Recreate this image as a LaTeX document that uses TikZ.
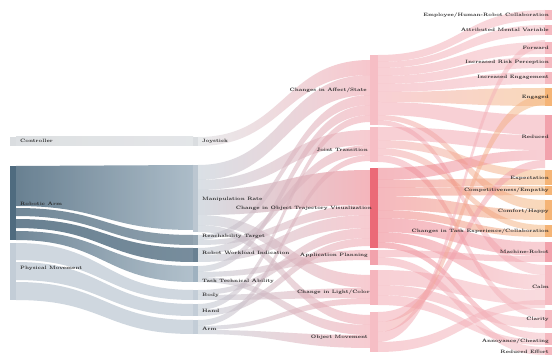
\documentclass[tikz,border=0pt]{standalone}
\usepackage{tikz}
\definecolor{robot}{HTML}{4F6B7F}
\definecolor{robotL}{HTML}{9FB2C0}
\definecolor{phys}{HTML}{C3CDD7}
\definecolor{ctrl}{HTML}{DADDE0}
\definecolor{gblue}{HTML}{BCC7D1}
\definecolor{pinkA}{HTML}{F2A2AC}
\definecolor{pinkB}{HTML}{F5B9C0}
\definecolor{redA}{HTML}{E8505F}
\definecolor{orangeA}{HTML}{F5B476}
\definecolor{txt}{HTML}{2A2A2A}
\newcommand\flowband[7]{%
  \pgfmathsetmacro\fbm{(#1+#4)/2}%
  \path[#7] (#1,#2) .. controls (\fbm,#2) and (\fbm,#5) .. (#4,#5) -- (#4,#6)
     .. controls (\fbm,#6) and (\fbm,#3) .. (#1,#3) -- cycle;}
\tikzset{
  lbl/.style={font=\fontsize{4.8}{5}\selectfont\bfseries, text=txt, inner sep=0pt},
  lblL/.style={lbl, anchor=west},
  lblR/.style={lbl, anchor=east},
  bandA/.style={left color=#1, right color=robotL, fill opacity=0.85},
  bandB/.style={left color=gblue, right color=pinkA, fill opacity=0.55},
  bandC/.style={left color=pinkA, right color=#1, fill opacity=0.5},
}
\begin{document}
\begin{tikzpicture}[x=1pt,y=-1pt]
\useasboundingbox (0,0) rectangle (554,355);
\fill[white] (0,0) rectangle (554,355);
% ---------- column 1 -> column 2 ----------
\flowband{16}{137}{146}{193}{137}{146}{left color=ctrl,right color=ctrl!80,fill opacity=0.9}
\flowband{16}{166}{206}{193}{165}{230}{bandA=robot}
\flowband{16}{208}{216}{193}{235}{245}{left color=robot,right color=robot!80,fill opacity=0.8}
\flowband{16}{219}{228}{193}{248}{262}{left color=robot,right color=robot!90,fill opacity=0.85}
\flowband{16}{231}{240}{193}{266}{282}{left color=robot,right color=robotL,fill opacity=0.8}
\flowband{16}{243}{260}{193}{290}{300}{left color=phys,right color=phys,fill opacity=0.8}
\flowband{16}{262}{280}{193}{304}{316}{left color=phys,right color=phys,fill opacity=0.8}
\flowband{16}{282}{300}{193}{320}{334}{left color=phys,right color=phys,fill opacity=0.8}
% ---------- column 2 -> column 3 ----------
\flowband{198}{137}{146}{370}{60}{75}{left color=ctrl,right color=pinkA,fill opacity=0.6}
\flowband{198}{165}{180}{370}{75}{95}{bandB}
\flowband{198}{180}{190}{370}{130}{145}{bandB}
\flowband{198}{190}{215}{370}{170}{205}{left color=gblue,right color=redA!70,fill opacity=0.6}
\flowband{198}{215}{225}{370}{275}{288}{bandB}
\flowband{198}{225}{232}{370}{315}{325}{bandB}
\flowband{198}{235}{240}{370}{95}{105}{bandB}
\flowband{198}{240}{245}{370}{205}{215}{bandB}
\flowband{198}{248}{255}{370}{145}{155}{bandB}
\flowband{198}{255}{262}{370}{215}{228}{bandB}
\flowband{198}{266}{272}{370}{105}{115}{bandB}
\flowband{198}{272}{277}{370}{250}{260}{bandB}
\flowband{198}{277}{282}{370}{325}{335}{bandB}
\flowband{198}{290}{295}{370}{228}{238}{bandB}
\flowband{198}{295}{300}{370}{288}{298}{bandB}
\flowband{198}{304}{310}{370}{115}{122}{bandB}
\flowband{198}{310}{316}{370}{238}{246}{bandB}
\flowband{198}{320}{326}{370}{155}{161}{bandB}
\flowband{198}{326}{330}{370}{298}{304}{bandB}
\flowband{198}{330}{334}{370}{335}{348}{bandB}
% ---------- column 3 -> column 4 ----------
\flowband{378}{55}{62}{545}{10}{20}{bandC=pinkB}
\flowband{378}{62}{68}{545}{25}{35}{bandC=pinkB}
\flowband{378}{68}{76}{545}{42}{54}{bandC=pinkB}
\flowband{378}{76}{84}{545}{57}{68}{bandC=pinkB}
\flowband{378}{84}{92}{545}{72}{84}{bandC=pinkB}
\flowband{378}{92}{102}{545}{88}{106}{bandC=orangeA}
\flowband{378}{102}{115}{545}{115}{135}{bandC=pinkA}
\flowband{378}{115}{120}{545}{200}{210}{bandC=orangeA}
\flowband{378}{120}{125}{545}{265}{275}{bandC=pinkB}
\flowband{378}{127}{140}{545}{135}{150}{bandC=pinkA}
\flowband{378}{140}{148}{545}{170}{178}{bandC=orangeA}
\flowband{378}{148}{155}{545}{225}{231}{bandC=orangeA}
\flowband{378}{155}{162}{545}{310}{318}{bandC=pinkB}
\flowband{378}{168}{180}{545}{150}{160}{left color=redA!80,right color=pinkA,fill opacity=0.5}
\flowband{378}{180}{188}{545}{178}{185}{left color=redA!80,right color=orangeA,fill opacity=0.5}
\flowband{378}{188}{196}{545}{186}{195}{left color=redA!80,right color=orangeA,fill opacity=0.5}
\flowband{378}{196}{210}{545}{210}{220}{left color=redA!80,right color=orangeA,fill opacity=0.5}
\flowband{378}{210}{218}{545}{231}{237}{left color=redA!80,right color=orangeA,fill opacity=0.5}
\flowband{378}{218}{232}{545}{242}{256}{left color=redA!80,right color=pinkA,fill opacity=0.5}
\flowband{378}{232}{242}{545}{275}{290}{left color=redA!80,right color=pinkB,fill opacity=0.5}
\flowband{378}{242}{248}{545}{333}{340}{left color=redA!80,right color=pinkB,fill opacity=0.5}
\flowband{378}{250}{257}{545}{256}{262}{bandC=pinkA}
\flowband{378}{257}{265}{545}{347}{355}{bandC=pinkB}
\flowband{378}{270}{285}{545}{290}{305}{bandC=pinkB}
\flowband{378}{285}{295}{545}{318}{328}{bandC=pinkB}
\flowband{378}{295}{305}{545}{340}{345}{bandC=pinkB}
\flowband{378}{312}{322}{545}{160}{168}{bandC=pinkA}
\flowband{378}{322}{332}{545}{95}{105}{bandC=orangeA}
\flowband{378}{332}{342}{545}{40}{48}{bandC=pinkB}
\flowband{378}{342}{352}{545}{300}{308}{bandC=pinkB}
% ---------- bars ----------
\fill[ctrl] (10,137) rectangle (16,146);
\fill[robot] (10,166) rectangle (16,240);
\fill[phys] (10,243) rectangle (16,300);
\fill[ctrl] (193,137) rectangle (198,146);
\fill[gblue] (193,165) rectangle (198,232);
\fill[robot!60] (193,235) rectangle (198,245);
\fill[robot!85] (193,248) rectangle (198,262);
\fill[robotL] (193,266) rectangle (198,282);
\fill[phys] (193,290) rectangle (198,300);
\fill[phys] (193,304) rectangle (198,316);
\fill[phys] (193,320) rectangle (198,334);
\fill[pinkA!70] (370,55) rectangle (378,125);
\fill[pinkA!70] (370,127) rectangle (378,162);
\fill[redA!85] (370,168) rectangle (378,248);
\fill[pinkA] (370,250) rectangle (378,265);
\fill[pinkA!80] (370,270) rectangle (378,305);
\fill[pinkA!70] (370,312) rectangle (378,352);
\foreach \a/\b/\c in {10/20/pinkB,25/35/pinkB,42/54/pinkB,57/68/pinkB,72/84/pinkB,88/106/orangeA,
  115/160/pinkA,170/185/orangeA,186/195/orangeA,200/220/orangeA,225/237/orangeA,242/262/pinkA,
  265/305/pinkB,310/328/pinkB,333/345/pinkB,347/355/pinkB}
  \fill[\c] (545,\a) rectangle (552,\b);
% ---------- labels ----------
\node[lblL] (n1a) at (20,141) {Controller};
\node[lblL] (n1b) at (20,204) {Robotic Arm};
\node[lblL] (n1c) at (20,268) {Physical Movement};
\node[lblL] (n2a) at (202,141) {Joystick};
\node[lblL] (n2b) at (202,199) {Manipulation Rate};
\node[lblL] (n2c) at (202,236) {Reachability Target};
\node[lblL] (n2d) at (202,253) {Robot Workload Indication};
\node[lblL] (n2e) at (202,281) {Task Technical Ability};
\node[lblL] (n2f) at (202,295) {Body};
\node[lblL] (n2g) at (202,311) {Hand};
\node[lblL] (n2h) at (202,329) {Arm};
\node[lblR] (n3a) at (367,90) {Changes in Affect/State};
\node[lblR] (n3b) at (368,150) {Joint Transition};
\node[lblR] (n3c) at (372,208) {Change in Object Trajectory Visualization};
\node[lblR] (n3d) at (368,255) {Application Planning};
\node[lblR] (n3e) at (370,292) {Change in Light/Color};
\node[lblR] (n3f) at (368,337) {Object Movement};
\node[lblR] (n4a) at (549,15) {Employee/Human-Robot Collaboration};
\node[lblR] (n4b) at (549,30) {Attributed Mental Variable};
\node[lblR] (n4c) at (549,48) {Forward};
\node[lblR] (n4d) at (549,62) {Increased Risk Perception};
\node[lblR] (n4e) at (549,77) {Increased Engagement};
\node[lblR] (n4f) at (549,97) {Engaged};
\node[lblR] (n4g) at (549,137) {Reduced};
\node[lblR] (n4h) at (549,178) {Expectation};
\node[lblR] (n4i) at (549,190) {Competitiveness/Empathy};
\node[lblR] (n4j) at (549,211) {Comfort/Happy};
\node[lblR] (n4k) at (549,231) {Changes in Task Experience/Collaboration};
\node[lblR] (n4l) at (549,252) {Machine-Robot};
\node[lblR] (n4m) at (549,287) {Calm};
\node[lblR] (n4n) at (549,319) {Clarity};
\node[lblR] (n4o) at (549,341) {Annoyance/Cheating};
\node[lblR] (n4p) at (549,352) {Reduced Effort};
\end{tikzpicture}
\end{document}
